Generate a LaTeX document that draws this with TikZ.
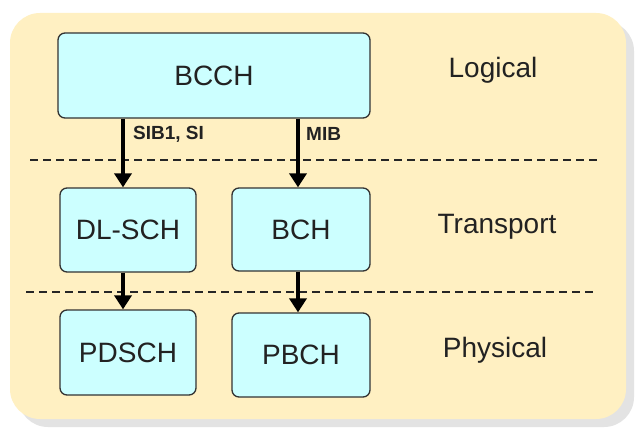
\documentclass[tikz,border=0pt]{standalone}
\usepackage{fontspec}
\setmainfont{Liberation Sans}
\usetikzlibrary{arrows.meta}
\definecolor{panelfill}{HTML}{FFF0C2}
\definecolor{panelshadow}{HTML}{E3E3E3}
\definecolor{boxfill}{HTML}{CCFFFF}
\definecolor{boxline}{HTML}{333333}
\definecolor{textcol}{HTML}{222222}
\begin{document}
\begin{tikzpicture}[x=1pt,y=-1pt,
  chan/.style={draw=boxline, line width=1.3pt, fill=boxfill, rounded corners=7pt,
    inner sep=0pt, font=\fontsize{28}{30}\selectfont, text=textcol},
  layer/.style={font=\fontsize{28}{30}\selectfont, text=textcol},
  tag/.style={font=\fontsize{19}{21}\selectfont\bfseries, text=textcol, anchor=west, inner sep=0pt},
  flow/.style={line width=3.5pt, -{Triangle[length=14pt,width=17pt]}},
  divider/.style={line width=1.1pt, dash pattern=on 8pt off 5pt, draw=black!85}]
  \useasboundingbox (0,0) rectangle (635,428);
  \fill[white] (0,0) rectangle (635,428);
  % panel with drop shadow
  \fill[panelshadow, rounded corners=30pt] (18,21) rectangle (634,427);
  \fill[panelfill, rounded corners=30pt] (10,13) rectangle (626,419);

  % layer dividers
  \draw[divider] (30,160) -- (600,160);
  \draw[divider] (26,292) -- (596,292);

  % channels
  \node[chan, minimum width=312pt, minimum height=85pt] (bcch) at (214,75.5) {BCCH};
  \node[chan, minimum width=136pt, minimum height=84pt] (dlsch) at (128,230) {DL-SCH};
  \node[chan, minimum width=138pt, minimum height=83pt] (bch) at (301,229.5) {BCH};
  \node[chan, minimum width=136pt, minimum height=85pt] (pdsch) at (128,352.5) {PDSCH};
  \node[chan, minimum width=138pt, minimum height=84pt] (pbch) at (301,355) {PBCH};

  % layer names
  \node[layer] (logical) at (493,70) {Logical};
  \node[layer] (transport) at (497,227) {Transport};
  \node[layer] (physical) at (495,350) {Physical};

  % mappings
  \coordinate (lx) at (123,0);
  \coordinate (rx) at (298,0);
  \draw[flow] (bcch.south -| lx) -- (dlsch.north -| lx);
  \draw[flow] (bcch.south -| rx) -- (bch.north -| rx);
  \draw[flow] (dlsch.south -| lx) -- (pdsch.north -| lx);
  \draw[flow] (bch.south -| rx) -- (pbch.north -| rx);

  \node[tag] (sib) at (133,134) {SIB1, SI};
  \node[tag] (mib) at (306,134) {MIB};
\end{tikzpicture}
\end{document}
